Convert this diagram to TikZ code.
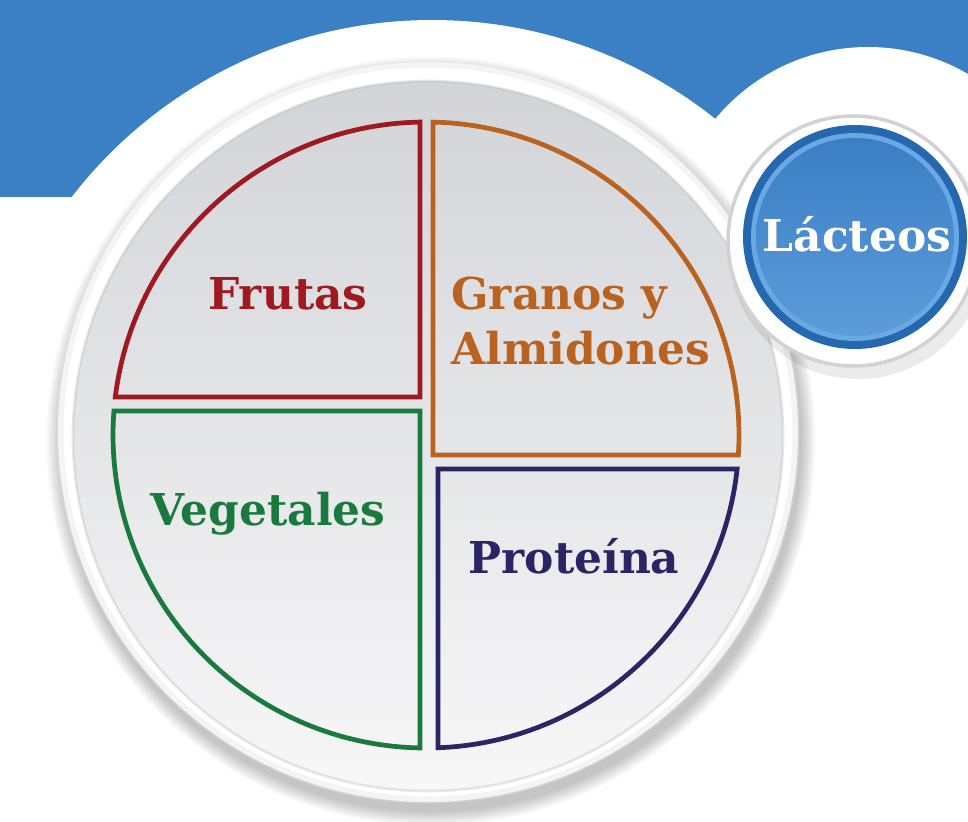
\documentclass[tikz,border=0pt]{standalone}
\usepackage{fontspec}
\setmainfont{DejaVu Serif}
\usepackage{xcolor}
\usepackage{tikz}
\usetikzlibrary{positioning}
\definecolor{bandblue}{RGB}{59,127,196}
\definecolor{platetop}{RGB}{211,212,216}
\definecolor{platebot}{RGB}{247,247,248}
\definecolor{frutasred}{RGB}{158,26,32}
\definecolor{granosorange}{RGB}{186,98,32}
\definecolor{vegegreen}{RGB}{26,122,62}
\definecolor{protpurple}{RGB}{44,36,100}
\definecolor{btndark}{RGB}{38,104,176}
\definecolor{btnlight}{RGB}{105,168,226}
\definecolor{btntop}{RGB}{58,126,196}
\definecolor{btnbot}{RGB}{92,156,218}
\tikzset{
  quad/.style={line width=2.7pt,line join=miter},
  lbl/.style={font=\fontsize{25}{31}\selectfont\bfseries,inner sep=0pt},
  halo/.style={fill=white},
}

\begin{document}
\begin{tikzpicture}[x=0.02cm,y=0.02cm]
  \useasboundingbox (0,0) rectangle (968,-822);
  \clip (0,0) rectangle (968,-822);
  % header band
  \fill[white] (0,0) rectangle (968,-822);
  \fill[bandblue] (0,0) rectangle (968,-197);
  \fill[halo] (432,-475) circle (455);
  \fill[halo] (868,-245) circle (198);
  % plate
  \coordinate (c) at (426,-435);
  \foreach \i in {0,...,9}
    \fill[black,opacity=0.022] (431,-441) circle (371+1.5*\i);
  \fill[white] (428,-432) circle (370);
  \draw[gray!20,line width=4pt,opacity=0.4] (428,-432) circle (368);
  \shade[top color=platetop,bottom color=platebot] (428,-436) circle (355);
  \draw[gray!60,line width=1.5pt,opacity=0.3] (428,-436) circle (355);
  % sections
  \draw[quad,frutasred] (420,-397) -- ([shift={(c)}]91.1:313)
    arc[start angle=91.1,end angle=173.03,radius=313] -- cycle;
  \draw[quad,granosorange] (433,-455) -- ([shift={(c)}]88.72:313)
    arc[start angle=88.72,end angle=-3.66,radius=313] -- cycle;
  \draw[quad,vegegreen] (420,-411) -- ([shift={(c)}]175.6:313)
    arc[start angle=175.6,end angle=268.9,radius=313] -- cycle;
  \draw[quad,protpurple] (438,-469) -- ([shift={(c)}]-6.24:313)
    arc[start angle=-6.24,end angle=-87.8,radius=313] -- cycle;
  \node[lbl,text=frutasred,anchor=base] (frutas) at (288,-309) {Frutas};
  \node[lbl,text=granosorange,anchor=north west,align=left]
    (granos) at (451,-277) {Granos y\\Almidones};
  \node[lbl,text=vegegreen,anchor=base] (vegetales) at (268,-525) {Vegetales};
  \node[lbl,text=protpurple,anchor=base] (proteina) at (574,-573) {Proteína};
  % dairy button
  \fill[black,opacity=0.08] (858,-250) circle (129);
  \fill[white] (853,-241) circle (126);
  \draw[gray!35,line width=2pt] (853,-241) circle (125);
  \fill[btndark] (855,-237) circle (112);
  \fill[btnlight] (855,-237) circle (104);
  \shade[top color=btntop,bottom color=btnbot] (855,-237) circle (99);
  \node[lbl,text=white,anchor=base] (lacteos) at (857,-251) {Lácteos};
\end{tikzpicture}
\end{document}
